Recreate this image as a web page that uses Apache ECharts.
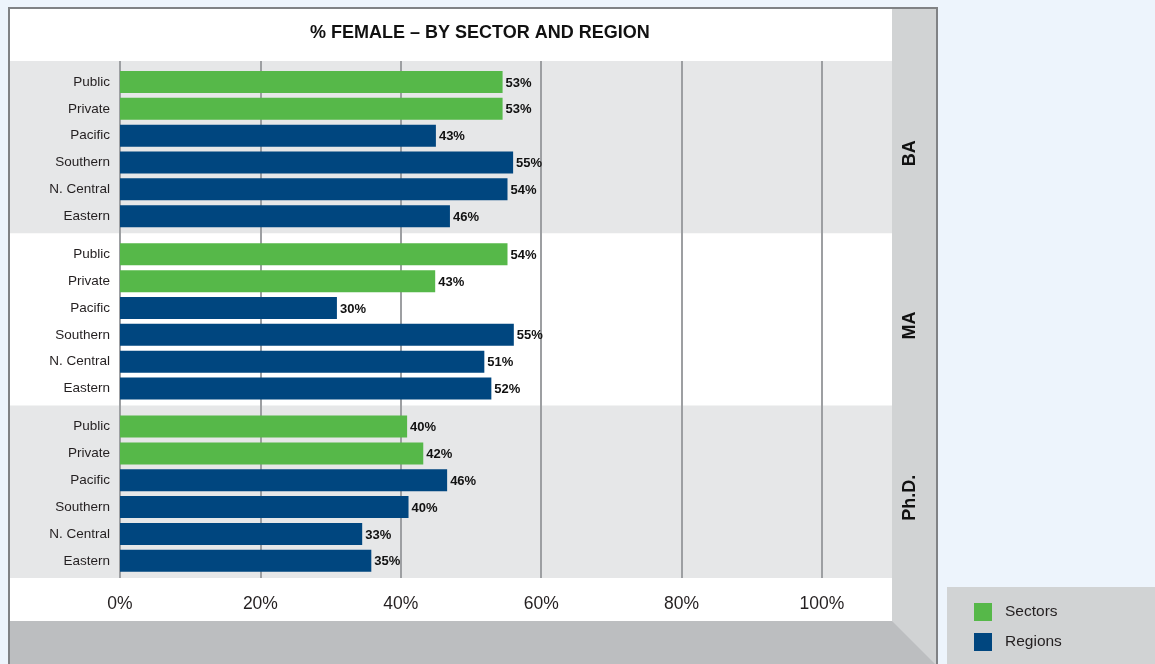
<!DOCTYPE html>
<html lang="en">
<head>
<meta charset="UTF-8">
<title>% Female - by sector and region</title>
<script src="https://cdn.jsdelivr.net/npm/echarts@6/dist/echarts.min.js"></script>
<style>
    html, body { margin: 0; padding: 0; background: #EDF4FC; }
    #main { width: 1155px; height: 664px; }
</style>
</head>
<body>
<div id="main"></div>
<script>
    // rows inside each degree block
    var categories = ['Public', 'Private', 'Pacific', 'Southern', 'N. Central', 'Eastern'];
    var degrees = ['BA', 'MA', 'Ph.D.'];
    var sectorCount = 2; // first two rows are sectors, the rest are regions
    var xTicks = [0, 20, 40, 60, 80, 100];

    // bar lengths as drawn (%)
    var barsBA  = [54.5, 54.5, 45.0, 56.0, 55.2, 47.0];
    var barsMA  = [55.2, 44.9, 30.9, 56.1, 51.9, 52.9];
    var barsPhD = [40.9, 43.2, 46.6, 41.1, 34.5, 35.8];

    // values printed next to the bars (%)
    var printedBA  = [53, 53, 43, 55, 54, 46];
    var printedMA  = [54, 43, 30, 55, 51, 52];
    var printedPhD = [40, 42, 46, 40, 33, 35];

    var font = "'Liberation Sans', Arial, Helvetica, sans-serif";
    var green = '#56B849';
    var blue = '#00467F';
    var textColor = '#231F20';

    var bars = [barsBA, barsMA, barsPhD];
    var printed = [printedBA, printedMA, printedPhD];

    var plotLeft = 120, plotWidth = 702;
    var blockTop = 61, blockHeight = 172.3;

    var grids = [], xAxes = [], yAxes = [], series = [];

    for (var g = 0; g < 3; g++) {
        grids.push({ left: plotLeft, width: plotWidth, top: blockTop + g * blockHeight + 7.6, height: 161 });
        xAxes.push({ gridIndex: g, type: 'value', min: 0, max: 100, show: false });
        yAxes.push({
            gridIndex: g, type: 'category', data: categories, inverse: true, z: 3,
            axisLine: { show: false }, axisTick: { show: false },
            axisLabel: { margin: 10, color: textColor, fontSize: 13.5, fontFamily: font }
        });
        (function (vals, labels, g) {
            var lab = {
                show: true, position: 'right', distance: 3, offset: [0, 1],
                color: '#111', fontSize: 13, fontWeight: 'bold', fontFamily: font,
                formatter: function (p) { return labels[p.dataIndex] + '%'; }
            };
            series.push({
                name: 'Sectors', type: 'bar', xAxisIndex: g, yAxisIndex: g, stack: 's' + g,
                barWidth: 22, z: 5, itemStyle: { color: green }, label: lab,
                data: vals.map(function (v, i) { return i < sectorCount ? v : '-'; })
            });
            series.push({
                name: 'Regions', type: 'bar', xAxisIndex: g, yAxisIndex: g, stack: 's' + g,
                barWidth: 22, z: 5, itemStyle: { color: blue }, label: lab,
                data: vals.map(function (v, i) { return i >= sectorCount ? v : '-'; })
            });
        })(bars[g], printed[g], g);
    }

    // one grid over the full plot height just for the vertical lines and % ticks
    grids.push({ left: plotLeft, width: plotWidth, top: blockTop, height: 517 });
    xAxes.push({
        gridIndex: 3, type: 'value', min: xTicks[0], max: xTicks[xTicks.length - 1], interval: 20, z: 3,
        axisLine: { show: false }, axisTick: { show: false },
        splitLine: { show: true, lineStyle: { color: '#9D9FA2', width: 2 } },
        axisLabel: { margin: 17, fontSize: 17.5, color: textColor, fontFamily: font, formatter: '{value}%' }
    });
    yAxes.push({ gridIndex: 3, type: 'value', show: false });

    // frame, bands and side strip
    var graphics = [
        { type: 'rect', z: 0, shape: { x: 9, y: 8, width: 928, height: 660 }, style: { fill: '#FFFFFF' } },
        { type: 'rect', z: 0, shape: { x: 10, y: blockTop, width: 882, height: blockHeight }, style: { fill: '#E6E7E8' } },
        { type: 'rect', z: 0, shape: { x: 10, y: blockTop + 2 * blockHeight, width: 882, height: blockHeight }, style: { fill: '#E6E7E8' } },
        { type: 'rect', z: 0, shape: { x: 892, y: 8, width: 45, height: 660 }, style: { fill: '#D1D3D4' } },
        { type: 'polygon', z: 0, shape: { points: [[10, 621], [892, 621], [936, 665], [10, 665]] }, style: { fill: '#BCBEC0' } },
        { type: 'polyline', z: 1, shape: { points: [[9, 665], [9, 8], [937, 8], [937, 665]] }, style: { stroke: '#808285', lineWidth: 2, fill: null } },
        { type: 'rect', z: 0, shape: { x: 947, y: 587, width: 210, height: 80 }, style: { fill: '#D1D3D4' } }
    ];
    degrees.forEach(function (d, i) {
        graphics.push({
            type: 'text', z: 4, x: 910, y: blockTop + i * blockHeight + blockHeight / 2 + 6, rotation: Math.PI / 2,
            style: { text: d, fill: '#111', font: 'bold 18px ' + font, textAlign: 'center', textVerticalAlign: 'middle' }
        });
    });

    var myChart = echarts.init(document.getElementById('main'));
    var option = {
        animation: false,
        title: {
            text: '% FEMALE \u2013 BY SECTOR AND REGION',
            left: 310, top: 24, padding: 0,
            textStyle: { fontSize: 18, fontWeight: 'bold', color: '#111', fontFamily: font }
        },
        legend: {
            orient: 'vertical', left: 974, top: 603, padding: 0,
            itemWidth: 18, itemHeight: 18, itemGap: 12, icon: 'rect',
            data: ['Sectors', 'Regions'],
            textStyle: { fontSize: 15.5, color: textColor, fontFamily: font, padding: [0, 0, 0, 8] }
        },
        graphic: graphics,
        grid: grids,
        xAxis: xAxes,
        yAxis: yAxes,
        series: series
    };
    myChart.setOption(option);
</script>
</body>
</html>
